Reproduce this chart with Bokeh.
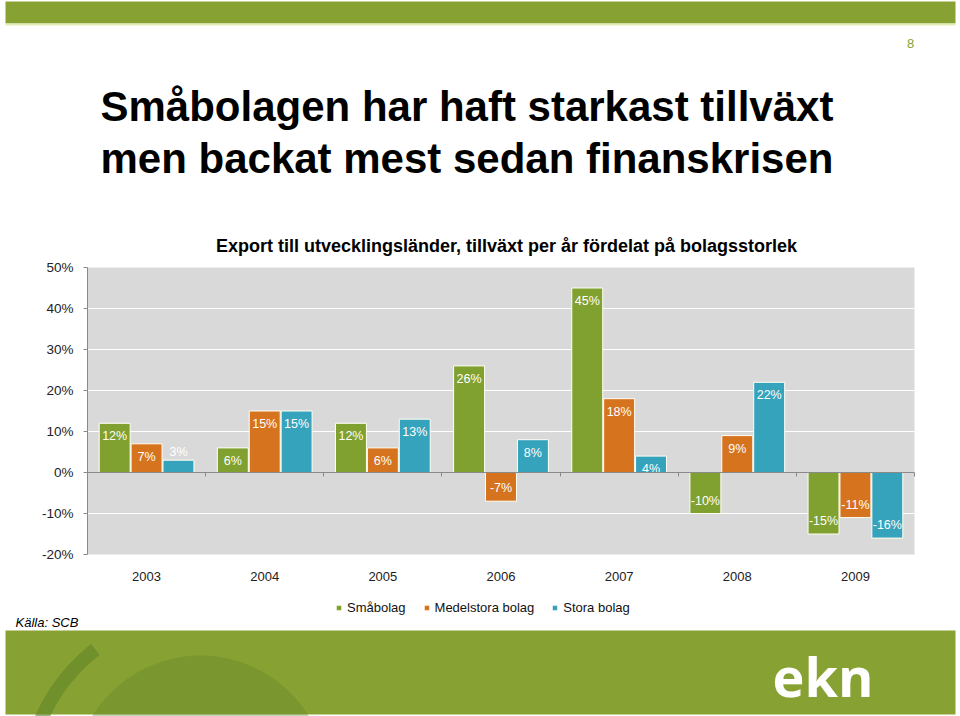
import math
from bokeh.plotting import figure
from bokeh.models import (ColumnDataSource, Range1d, FixedTicker, LinearAxis, Label,
                          Legend, LegendItem, CustomJSTickFormatter)
from bokeh.transform import dodge
from bokeh.core.properties import field, value
from bokeh.embed import file_html
from bokeh.resources import INLINE

# ---- data ----
years = ["2003", "2004", "2005", "2006", "2007", "2008", "2009"]
smabolag = [12, 6, 12, 26, 45, -10, -15]
medelstora = [7, 15, 6, -7, 18, 9, -11]
stora = [3, 15, 13, 8, 4, 22, -16]
series_names = ["Småbolag", "Medelstora bolag", "Stora bolag"]
y_ticks = [-20, -10, 0, 10, 20, 30, 40, 50]
y_tick_labels = ["-20%", "-10%", "0%", "10%", "20%", "30%", "40%", "50%"]

title_lines = ["Småbolagen har haft starkast tillväxt", "men backat mest sedan finanskrisen"]
subtitle = "Export till utvecklingsländer, tillväxt per år fördelat på bolagsstorlek"
source_text = "Källa: SCB"
page_no = "8"
logo_text = "ekn"

# ---- styles / layout ----
colors = ["#80A030", "#D6731E", "#36A3BD"]
band_green = "#87A233"
FONT = "Liberation Sans"
W, H = 960, 716
FRAME_L, FRAME_R, FRAME_T, FRAME_B = 87, 914, 267, 554

n = len(years)
pos = list(range(1, n + 1))
x_lo, x_hi = 0.5, n + 0.5
y_lo, y_hi = y_ticks[0], y_ticks[-1]
ppx = (FRAME_R - FRAME_L) / (x_hi - x_lo)
ppy = (FRAME_B - FRAME_T) / (y_hi - y_lo)
cx_range = Range1d(x_lo - FRAME_L / ppx, x_hi + (W - FRAME_R) / ppx)
cy_range = Range1d(y_lo - (H - FRAME_B) / ppy, y_hi + FRAME_T / ppy)


def cy(py):  # canvas y (top-down) -> page coordinate (bottom-up)
    return H - py


series = [smabolag, medelstora, stora]
keys = ["s0", "s1", "s2"]
data = {"pos": pos, "year": years}
for k, vals in zip(keys, series):
    data[k] = vals
    data[k + "_lab"] = [f"{v}%" for v in vals]
    # screen offset of the label (positive = down)
    data[k + "_off"] = [(13 if v >= 4 else (-13 if v <= -4 else -8)) for v in vals]
src = ColumnDataSource(data)

p = figure(width=W, height=H, output_backend="svg", toolbar_location=None,
           x_range=Range1d(0, W), y_range=Range1d(0, H),
           x_axis_location=None, y_axis_location=None, min_border=0)
p.extra_x_ranges = {"cx": cx_range}
p.extra_y_ranges = {"cy": cy_range}
p.background_fill_color = "white"
p.border_fill_color = "white"
p.outline_line_color = None
p.grid.visible = False

# ---- page decorations ----
p.quad(left=5, right=955, top=cy(1), bottom=cy(23), fill_color=band_green, line_color=None)
p.quad(left=5, right=955, top=cy(23), bottom=cy(25), fill_color="#E4ECB8", line_color=None)
p.quad(left=5, right=955, top=cy(630), bottom=cy(714), fill_color=band_green, line_color=None)
# faint globe in the footer band
p.wedge(x=200, y=cy(782), radius=127, start_angle=math.radians(20), end_angle=math.radians(160),
        fill_color="#5F8426", fill_alpha=0.35, line_color=None)
p.annular_wedge(x=205, y=cy(790), inner_radius=172, outer_radius=186,
                start_angle=math.radians(128), end_angle=math.radians(165),
                fill_color="#5F8426", fill_alpha=0.6, line_color=None)

# ---- chart ----
p.quad(left=x_lo, right=x_hi, bottom=y_lo, top=y_hi, fill_color="#D9D9D9", line_color=None,
       x_range_name="cx", y_range_name="cy")
grid_ticks = [t for t in y_ticks if t not in (0, y_lo, y_hi)]
p.segment(x0=x_lo, x1=x_hi, y0=grid_ticks, y1=grid_ticks, line_color="white", line_width=1.2,
          x_range_name="cx", y_range_name="cy")

offsets = [-0.27, 0.0, 0.27]
renderers = []
for k, off, c in zip(keys, offsets, colors):
    r = p.vbar(x=dodge("pos", off, range=cx_range), top=k, width=0.262, source=src,
               fill_color=c, line_color="#FFFFF4", line_width=1,
               x_range_name="cx", y_range_name="cy")
    renderers.append(r)
    p.text(x=dodge("pos", off, range=cx_range), y=k, text=k + "_lab",
           y_offset=field(k + "_off"), source=src, text_align="center",
           text_baseline="middle", text_font=value(FONT), text_font_size="12.5px",
           text_color="white", x_range_name="cx", y_range_name="cy")

yax = LinearAxis(x_range_name="cx", y_range_name="cy", fixed_location=x_lo, bounds=(y_lo, y_hi),
                 ticker=FixedTicker(ticks=y_ticks),
                 major_label_overrides={t: l for t, l in zip(y_ticks, y_tick_labels)},
                 axis_line_color="#8A8A8A", major_tick_line_color="#8A8A8A",
                 major_tick_in=0, major_tick_out=4, minor_tick_line_color=None,
                 major_label_standoff=10, major_label_text_font=FONT,
                 major_label_text_font_size="13.5px", major_label_text_color="#222222")
p.add_layout(yax, "left")

xax = LinearAxis(x_range_name="cx", y_range_name="cy", fixed_location=y_lo, bounds=(x_lo, x_hi),
                 ticker=FixedTicker(ticks=pos),
                 major_label_overrides={i: y for i, y in zip(pos, years)},
                 axis_line_color=None, major_tick_line_color=None, minor_tick_line_color=None,
                 major_label_standoff=11, major_label_text_font=FONT,
                 major_label_text_font_size="13px", major_label_text_color="#222222")
p.add_layout(xax, "below")

sep = LinearAxis(x_range_name="cx", y_range_name="cy", fixed_location=0, bounds=(x_lo, x_hi),
                 ticker=FixedTicker(ticks=[i + 0.5 for i in range(n + 1)]),
                 formatter=CustomJSTickFormatter(code="return ''"),
                 axis_line_color="#8A8A8A", major_tick_line_color="#8A8A8A",
                 major_tick_in=0, major_tick_out=4, minor_tick_line_color=None)
p.add_layout(sep, "below")

legend = Legend(items=[LegendItem(label=nm, renderers=[r]) for nm, r in zip(series_names, renderers)],
                orientation="horizontal", location=(335, 101),
                glyph_width=7, glyph_height=7, label_height=14, label_standoff=5,
                spacing=17, padding=0, margin=0,
                label_text_font=FONT, label_text_font_size="13px", label_text_color="#111111",
                background_fill_alpha=0, border_line_alpha=0)
p.add_layout(legend)

# ---- texts ----
p.add_layout(Label(x=910, y=cy(43), text=page_no, text_font=FONT, text_font_size="13px",
                   text_color=band_green, text_align="center", text_baseline="middle"))
p.add_layout(Label(x=100, y=cy(106), text=title_lines[0], text_font=FONT, text_font_size="42px",
                   text_font_style="bold", text_color="black", text_baseline="middle"))
p.add_layout(Label(x=100, y=cy(158), text=title_lines[1], text_font=FONT, text_font_size="42px",
                   text_font_style="bold", text_color="black", text_baseline="middle"))
p.add_layout(Label(x=506, y=cy(245), text=subtitle, text_font=FONT, text_font_size="18px",
                   text_font_style="bold", text_color="black", text_align="center",
                   text_baseline="middle"))
p.add_layout(Label(x=15, y=cy(622), text=source_text, text_font=FONT, text_font_size="13px",
                   text_font_style="italic", text_color="black", text_baseline="middle"))
p.add_layout(Label(x=772, y=cy(675), text=logo_text, text_font="Open Sans", text_font_size="54px",
                   text_font_style="bold", text_color="white", text_baseline="middle"))

open("out.html", "w").write(file_html(p, INLINE))
